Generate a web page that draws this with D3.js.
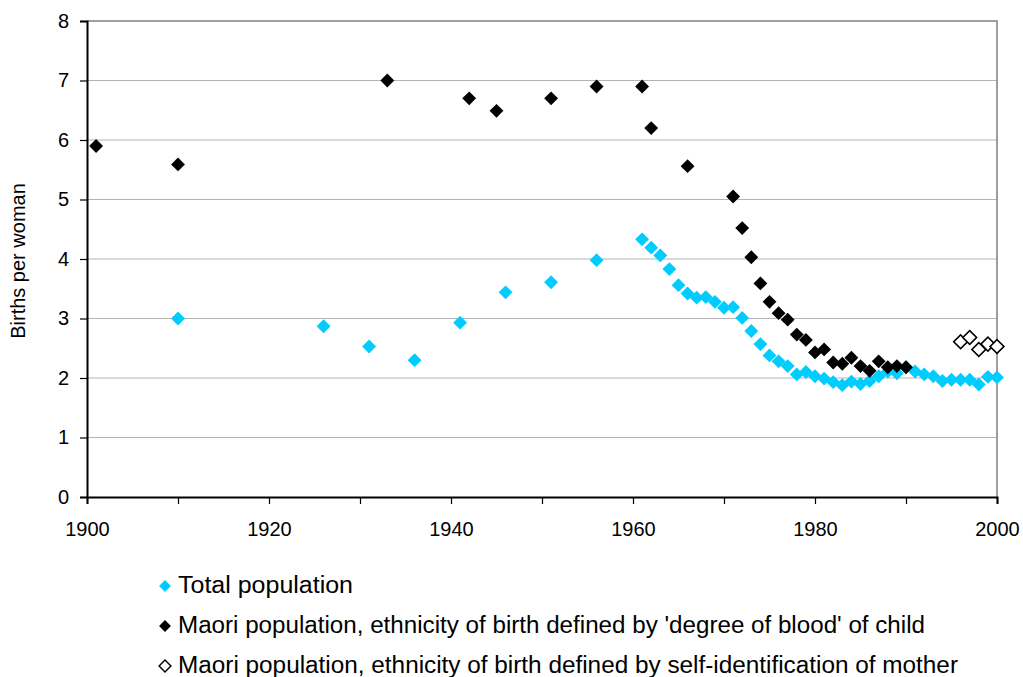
<!DOCTYPE html>
<html>
<head>
<meta charset="utf-8">
<script src="https://cdn.jsdelivr.net/npm/d3@7"></script>
<style>
  body { margin: 0; background: #fff; }
  text { font-family: "Liberation Sans", Arial, sans-serif; fill: #000; }
</style>
</head>
<body>
<script>
// total population
const totalYears = [1910, 1926, 1931, 1936, 1941, 1946, 1951, 1956, 1961, 1962, 1963, 1964, 1965, 1966, 1967, 1968, 1969, 1970,
  1971, 1972, 1973, 1974, 1975, 1976, 1977, 1978, 1979, 1980, 1981, 1982, 1983, 1984, 1985, 1986, 1987, 1988, 1989, 1990,
  1991, 1992, 1993, 1994, 1995, 1996, 1997, 1998, 1999, 2000];
const totalValues = [3.0, 2.87, 2.53, 2.3, 2.93, 3.44, 3.61, 3.98, 4.33, 4.19, 4.06, 3.83, 3.56, 3.42, 3.35, 3.36, 3.28, 3.18,
  3.19, 3.01, 2.79, 2.57, 2.38, 2.28, 2.2, 2.06, 2.1, 2.03, 1.99, 1.93, 1.88, 1.94, 1.9, 1.95, 2.03, 2.11, 2.08, 2.18,
  2.11, 2.06, 2.03, 1.95, 1.97, 1.97, 1.97, 1.89, 2.02, 2.01];

// maori, 'degree of blood' of child
const bloodYears = [1901, 1910, 1933, 1942, 1945, 1951, 1956, 1961, 1962, 1966, 1971, 1972, 1973, 1974, 1975, 1976, 1977,
  1978, 1979, 1980, 1981, 1982, 1983, 1984, 1985, 1986, 1987, 1988, 1989, 1990];
const bloodValues = [5.9, 5.59, 7.0, 6.7, 6.49, 6.7, 6.9, 6.9, 6.2, 5.56, 5.05, 4.52, 4.03, 3.59, 3.28, 3.09, 2.98,
  2.73, 2.64, 2.43, 2.48, 2.26, 2.24, 2.34, 2.2, 2.12, 2.28, 2.18, 2.2, 2.18];

// maori, self-identification of mother
const selfYears = [1996, 1997, 1998, 1999, 2000];
const selfValues = [2.61, 2.68, 2.48, 2.57, 2.53];

const xTicks = [1900, 1910, 1920, 1930, 1940, 1950, 1960, 1970, 1980, 1990, 2000];
const xLabels = [1900, 1920, 1940, 1960, 1980, 2000];
const yTicks = [0, 1, 2, 3, 4, 5, 6, 7, 8];

const legendNames = [
  "Total population",
  "Maori population, ethnicity of birth defined by 'degree of blood' of child",
  "Maori population, ethnicity of birth defined by self-identification of mother"
];

const cyan = "#00ccff";

const svg = d3.select("body").append("svg")
    .attr("width", 1023)
    .attr("height", 677);

const x = d3.scaleLinear().domain([1900, 2000]).range([87, 997]);
const y = d3.scaleLinear().domain([0, 8]).range([497, 21]);

// gridlines
svg.append("g")
  .selectAll("line")
  .data(yTicks.slice(1, -1))
  .join("line")
    .attr("x1", x(1900)).attr("x2", x(2000))
    .attr("y1", d => y(d)).attr("y2", d => y(d))
    .attr("stroke", "#b4b4b4")
    .attr("stroke-width", 1);

// plot border top / right
svg.append("path")
    .attr("d", `M${x(1900)},${y(8)}H${x(2000)}V${y(0)}`)
    .attr("fill", "none")
    .attr("stroke", "#808080")
    .attr("stroke-width", 1.5);

const xAxis = svg.append("g")
    .attr("transform", `translate(0,${y(0)})`)
    .call(d3.axisBottom(x)
      .tickValues(xTicks)
      .tickSize(7)
      .tickPadding(18)
      .tickFormat(d => xLabels.includes(d) ? d : ""));

const yAxis = svg.append("g")
    .attr("transform", `translate(${x(1900)},0)`)
    .call(d3.axisLeft(y)
      .tickValues(yTicks)
      .tickSize(7)
      .tickPadding(11)
      .tickFormat(d3.format("d")));

[xAxis, yAxis].forEach(a => {
  a.select(".domain").attr("stroke", "#000").attr("stroke-width", 2);
  a.selectAll(".tick line").attr("stroke", "#000").attr("stroke-width", 1.2);
  a.selectAll("text")
    .style("font-family", "'Liberation Sans', Arial, sans-serif")
    .style("font-size", "20px")
    .attr("fill", "#000");
});

svg.append("text")
    .attr("transform", "translate(25,261) rotate(-90)")
    .attr("text-anchor", "middle")
    .style("font-size", "20px")
    .text("Births per woman");

const diamond = d3.symbol().type(d3.symbolSquare).size(96);

function plot(years, values, fill, stroke) {
  svg.append("g")
    .selectAll("path")
    .data(years.map((yr, i) => [yr, values[i]]))
    .join("path")
      .attr("d", diamond)
      .attr("transform", d => `translate(${x(d[0])},${y(d[1])}) rotate(45)`)
      .attr("fill", fill)
      .attr("stroke", stroke)
      .attr("stroke-width", stroke === "none" ? 0 : 1.6);
}

plot(totalYears, totalValues, cyan, "none");
plot(bloodYears, bloodValues, "#000", "none");
plot(selfYears, selfValues, "#fff", "#000");

// legend
const legendStyles = [[cyan, "none"], ["#000", "none"], ["#fff", "#000"]];
const legendWidths = [175, 747, 780];
const small = d3.symbol().type(d3.symbolSquare).size(70);

const legend = svg.append("g");
legendNames.forEach((name, i) => {
  const cy = 585 + i * 40;
  legend.append("path")
    .attr("d", small)
    .attr("transform", `translate(165,${cy + 1}) rotate(45)`)
    .attr("fill", legendStyles[i][0])
    .attr("stroke", legendStyles[i][1])
    .attr("stroke-width", legendStyles[i][1] === "none" ? 0 : 1.4);
  legend.append("text")
    .attr("x", 178)
    .attr("y", cy + 8)
    .attr("textLength", legendWidths[i])
    .attr("lengthAdjust", "spacingAndGlyphs")
    .style("font-size", "23px")
    .text(name);
});
</script>
</body>
</html>
